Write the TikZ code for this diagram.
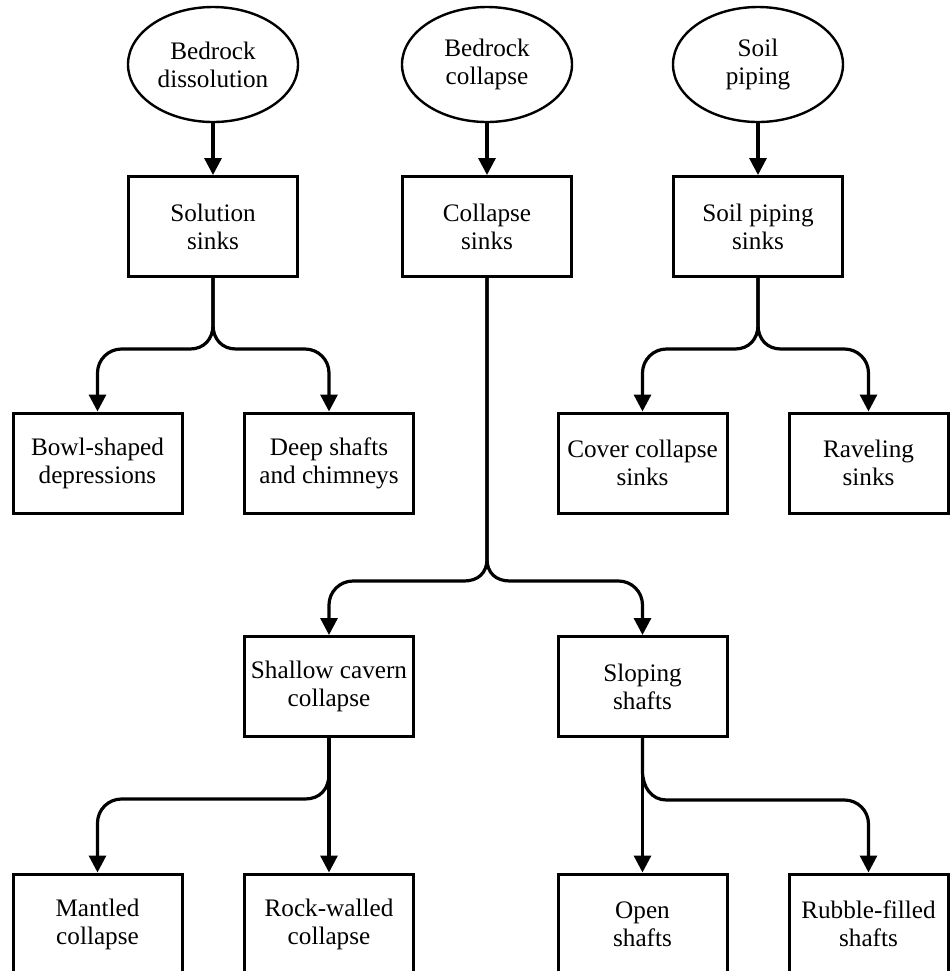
\documentclass[tikz,border=0pt]{standalone}
\usepackage{fontspec}
\setmainfont{Liberation Serif}
\usetikzlibrary{positioning,arrows.meta,shapes.geometric}

\begin{document}
\begin{tikzpicture}[x=0.5pt,y=-0.5pt,
          cause/.style={draw,ellipse,line width=1.2pt,minimum width=85pt,minimum height=57.5pt,inner sep=0pt,align=center,font=\fontsize{12.6}{14}\selectfont},
          sink/.style={draw,rectangle,line width=1.5pt,minimum width=84.5pt,minimum height=50pt,inner sep=0pt,align=center,font=\fontsize{12.6}{14}\selectfont},
          link/.style={line width=1.6pt,-{Triangle[length=8.5pt,width=8.5pt]}}
        ]
        \clip (0,0) rectangle (950,971);
        \node[cause] (bdis) at (213,64.5) {Bedrock\\dissolution};
        \node[cause] (bcol) at (487,64.5) {Bedrock\\collapse};
        \node[cause] (spip) at (758,64.5) {Soil\\piping};
        \node[sink] (sol) at (213,226.5) {Solution\\sinks};
        \node[sink] (col) at (487,226.5) {Collapse\\sinks};
        \node[sink] (spk) at (758,226.5) {Soil piping\\sinks};
        \node[sink] (bowl) at (97.5,463) {Bowl-shaped\\depressions};
        \node[sink] (deep) at (329,463) {Deep shafts\\and chimneys};
        \node[sink] (cover) at (642.5,463) {Cover collapse\\sinks};
        \node[sink,minimum width=79.5pt] (ravel) at (868.5,463) {Raveling\\sinks};
        \node[sink] (shallow) at (329,686.5) {Shallow cavern\\collapse};
        \node[sink] (sloping) at (642.5,686.5) {Sloping\\shafts};
        \node[sink] (mantled) at (97.5,924) {Mantled\\collapse};
        \node[sink] (rock) at (329,924) {Rock-walled\\collapse};
        \node[sink] (open) at (642.5,924) {Open\\shafts};
        \node[sink,minimum width=79.5pt] (rubble) at (868.5,924) {Rubble-filled\\shafts};
        \draw[link] (bdis.south) -- (sol.north);
        \draw[link] (bcol.south) -- (col.north);
        \draw[link] (spip.south) -- (spk.north);
        \draw[link] (sol.south) -- ++(0,47) .. controls +(0,14) and +(14,0) .. ++(-23,24) [rounded corners=12pt] -| (bowl.north);
        \draw[link] (sol.south) -- ++(0,47) .. controls +(0,14) and +(-14,0) .. ++(23,24) [rounded corners=12pt] -| (deep.north);
        \draw[link] (spk.south) -- ++(0,47) .. controls +(0,14) and +(14,0) .. ++(-23,24) [rounded corners=12pt] -| (cover.north);
        \draw[link] (spk.south) -- ++(0,47) .. controls +(0,14) and +(-14,0) .. ++(23,24) [rounded corners=12pt] -| (ravel.north);
        \draw[link] (col.south) -- ++(0,281) .. controls +(0,14) and +(14,0) .. ++(-23,22) [rounded corners=12pt] -| (shallow.north);
        \draw[link] (col.south) -- ++(0,281) .. controls +(0,14) and +(-14,0) .. ++(23,22) [rounded corners=12pt] -| (sloping.north);
        \draw[link] (shallow.south) -- (rock.north);
        \draw[link] (shallow.south) -- ++(0,36) .. controls +(0,15) and +(15,0) .. ++(-24,25) [rounded corners=12pt] -| (mantled.north);
        \draw[link] (sloping.south) -- (open.north);
        \draw[link] (sloping.south) -- ++(0,33) .. controls +(0,16) and +(-15,0) .. ++(24,29) [rounded corners=12pt] -| (rubble.north);
      \end{tikzpicture}
\end{document}
